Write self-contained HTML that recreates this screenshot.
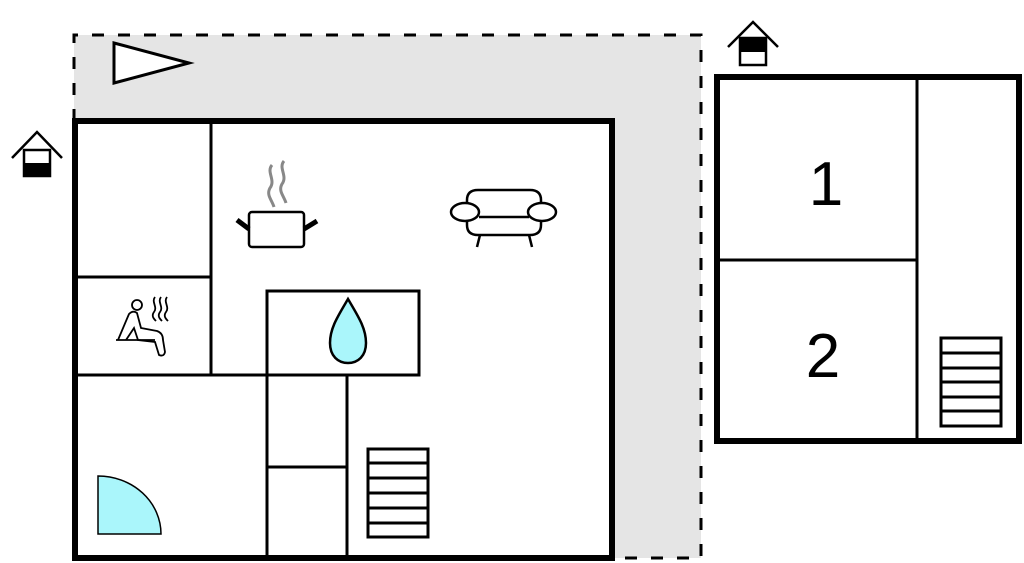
<!DOCTYPE html>
<html><head><style>html,body{margin:0;padding:0;background:#fff;}svg{display:block;}</style></head>
<body>
<svg width="1024" height="563" viewBox="0 0 1024 563" xmlns="http://www.w3.org/2000/svg">
<rect x="74" y="35" width="627" height="523" fill="#e5e5e5"/>
<path d="M74 121 V35 H701 V558 H614" fill="none" stroke="#000" stroke-width="3" stroke-dasharray="12 14"/>
<polygon points="114,43 189,63 114,83" fill="#fff" stroke="#000" stroke-width="3"/>
<!-- main building -->
<rect x="75" y="121" width="537" height="437" fill="#fff" stroke="#000" stroke-width="6"/>
<g stroke="#000" stroke-width="3" fill="none">
<line x1="211" y1="121" x2="211" y2="375"/>
<line x1="75" y1="277" x2="211" y2="277"/>
<line x1="75" y1="375" x2="267" y2="375"/>
<rect x="267" y="291" width="152" height="84"/>
<line x1="267" y1="375" x2="267" y2="558"/>
<line x1="347" y1="375" x2="347" y2="558"/>
<line x1="267" y1="467" x2="347" y2="467"/>
<rect x="368" y="449" width="60" height="88"/>
<line x1="368" y1="463" x2="428" y2="463"/>
<line x1="368" y1="478" x2="428" y2="478"/>
<line x1="368" y1="493" x2="428" y2="493"/>
<line x1="368" y1="508" x2="428" y2="508"/>
<line x1="368" y1="523" x2="428" y2="523"/>
</g>
<path d="M98 534 V476 A63 58 0 0 1 161 534 Z" fill="#aaf6fb" stroke="#000" stroke-width="1.5"/>
<path d="M348 299 C338 316 330 328 330 343 C330 356 338 363 348 363 C358 363 366 356 366 343 C366 328 358 316 348 299 Z" fill="#aaf6fb" stroke="#000" stroke-width="2.5"/>
<!-- pot -->
<path d="M272 165 C266 172 276 180 270 188 C266 195 272 200 274 207 M284 161 C278 168 288 176 282 184 C278 191 284 196 286 203" fill="none" stroke="#888" stroke-width="3"/>
<rect x="249" y="212" width="55" height="35" rx="3" fill="#fff" stroke="#000" stroke-width="2.5"/>
<line x1="237" y1="220" x2="249" y2="229" stroke="#000" stroke-width="5"/>
<line x1="304" y1="229" x2="317" y2="221" stroke="#000" stroke-width="5"/>
<!-- sofa -->
<g fill="#fff" stroke="#000" stroke-width="2.5">
<path d="M467 212 V200 Q467 190 478 190 H530 Q541 190 541 200 V212"/>
<path d="M467 212 V225 Q467 235 478 235 H530 Q541 235 541 225 V212"/>
<line x1="479" y1="217" x2="529" y2="217"/>
<ellipse cx="465" cy="212" rx="14" ry="9"/>
<ellipse cx="542" cy="212" rx="14" ry="9"/>
<line x1="480" y1="235" x2="477" y2="247"/>
<line x1="529" y1="235" x2="532" y2="247"/>
</g>
<!-- sauna -->
<g fill="none" stroke="#000" stroke-width="1.8">
<circle cx="137" cy="305" r="5"/>
<path d="M118 340 L129 314 Q133 310 137 313 L141 328 L157 331 Q163 333 163 340 L165 352 Q164 357 159 355 L155 342 L138 340 L134 328 L126 340"/>
<line x1="116" y1="340" x2="155" y2="340"/>
<path d="M155 297 C151 302 158 307 154 312 C151 316 154 319 156 321 M161 297 C157 302 164 307 160 312 C157 316 160 319 162 321 M167 297 C163 302 170 307 166 312 C163 316 166 319 168 321"/>
</g>
<!-- house icon left -->
<polyline points="12,158 37,132 62,158" fill="none" stroke="#000" stroke-width="2.5"/>
<rect x="24" y="150" width="26" height="26" fill="#fff" stroke="#000" stroke-width="2.5"/>
<rect x="23" y="163" width="28" height="14" fill="#000"/>
<!-- house icon right -->
<polyline points="728,47 753,22 778,47" fill="none" stroke="#000" stroke-width="2.5"/>
<rect x="740" y="38" width="26" height="27" fill="#fff" stroke="#000" stroke-width="2.5"/>
<rect x="739" y="37" width="28" height="15" fill="#000"/>
<!-- right building -->
<rect x="717" y="77" width="302" height="364" fill="#fff" stroke="#000" stroke-width="6"/>
<g stroke="#000" stroke-width="3" fill="none">
<line x1="917" y1="77" x2="917" y2="441"/>
<line x1="717" y1="260" x2="917" y2="260"/>
<rect x="941" y="338" width="60" height="88"/>
<line x1="941" y1="353" x2="1001" y2="353"/>
<line x1="941" y1="368" x2="1001" y2="368"/>
<line x1="941" y1="382" x2="1001" y2="382"/>
<line x1="941" y1="397" x2="1001" y2="397"/>
<line x1="941" y1="411" x2="1001" y2="411"/>
</g>
<text x="826" y="205" font-family="Liberation Sans, sans-serif" font-size="62" text-anchor="middle">1</text>
<text x="823" y="377" font-family="Liberation Sans, sans-serif" font-size="62" text-anchor="middle">2</text>
</svg>
</body></html>
